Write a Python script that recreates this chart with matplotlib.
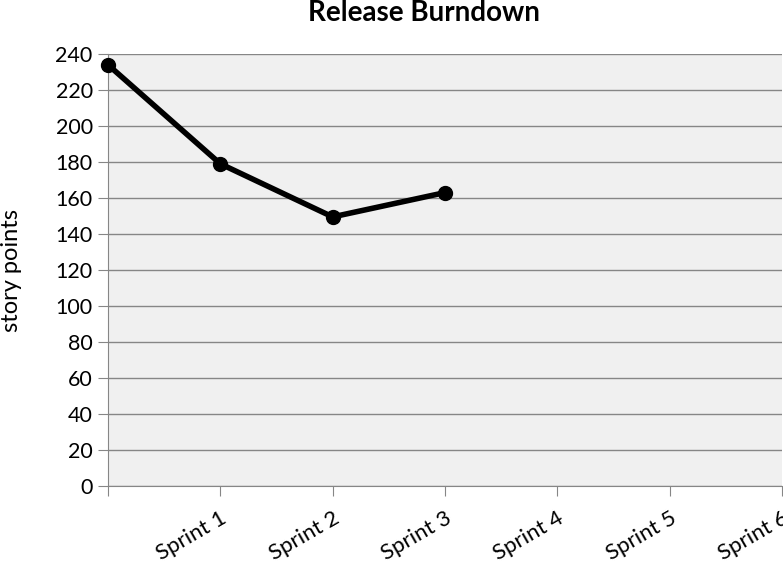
import matplotlib
matplotlib.use("Agg")
import matplotlib.pyplot as plt

# ------------------------------------------------------
# Data
labels = ["", "Sprint 1", "Sprint 2", "Sprint 3", "Sprint 4", "Sprint 5", "Sprint 6"]
sprint_idx = [0, 1, 2, 3]
points_left = [234, 179, 149.5, 163]
y_ticks = list(range(0, 241, 20))

# ------------------------------------------------------
# Figure
plt.rcParams['font.family'] = ['Lato', 'DejaVu Sans']
fig = plt.figure(figsize=(7.83, 5.63), dpi=100)
ax = fig.add_axes([108 / 783, 1 - 486 / 563, 674 / 783, 432 / 563])

ax.set_facecolor("#f0f0f0")
ax.set_xlim(0, len(labels) - 1)
ax.set_ylim(0, 240)
ax.set_yticks(y_ticks)
ax.set_xticks(range(len(labels)))
ax.set_xticklabels(labels, rotation=30, ha="right", va="top",
                   rotation_mode="anchor", fontsize=16)
ax.tick_params(axis="y", labelsize=15.5, length=7, color="#868686", pad=4)
ax.tick_params(axis="x", length=7, color="#868686", pad=9)
ax.yaxis.grid(True, color="#868686", linewidth=1)
ax.set_axisbelow(True)

for side in ["top", "right"]:
    ax.spines[side].set_visible(False)
for side in ["left", "bottom"]:
    ax.spines[side].set_color("#868686")

ax.plot(sprint_idx, points_left, color="black", linewidth=4, marker="o", markersize=10,
        clip_on=False, zorder=5)

ax.set_ylabel("story points", fontsize=17)
ax.yaxis.set_label_coords(-86 / 674, 0.5)
fig.text(424 / 783, 1 - 13 / 563, "Release Burndown", ha="center", va="center",
         fontsize=20, fontweight="bold")

fig.savefig("out.png", dpi=100)
